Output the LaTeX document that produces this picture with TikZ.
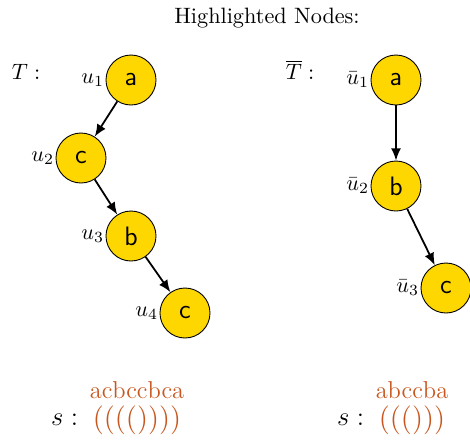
\documentclass[tikz,border=0pt]{standalone}
\usepackage{amsmath,amssymb}
\usepackage{tikz}
\usetikzlibrary{arrows.meta,positioning}

\definecolor{nodegold}{HTML}{FFD700}
\definecolor{seqorange}{HTML}{C8561E}

\begin{document}
\begin{tikzpicture}[
      x=0.45pt,y=-0.45pt,
      treenode/.style={
        circle,
        draw,
        fill=nodegold,
        minimum size=22.5pt,
        inner sep=0pt,
        font=\large\sffamily,
        label distance=0pt
      },
      every label/.style={inner sep=0.5pt},
      edgearrow/.style={-{Latex[length=5.5pt,width=4.5pt]},thick},
      seqletters/.style={text=seqorange,font=\fontsize{11}{13}\selectfont,inner sep=0pt,anchor=base},
      seqparens/.style={text=seqorange,font=\fontsize{13}{15}\selectfont,inner sep=0pt}
    ]
    \useasboundingbox (0,0) rectangle (470,442);

    \node (title) at (267,18) {Highlighted Nodes:};

    % left tree
    \node (tlab) at (26,72) {$T:$};
    \node[treenode,label=left:{$u_1$}] (u1) at (131,80) {a};
    \node[treenode,label=left:{$u_2$}] (u2) at (81,158) {c};
    \node[treenode,label=left:{$u_3$}] (u3) at (131,236) {b};
    \node[treenode,label=left:{$u_4$}] (u4) at (185,313) {c};

    \draw[edgearrow] (u1) -- (u2);
    \draw[edgearrow] (u2) -- (u3);
    \draw[edgearrow] (u3) -- (u4);

    % right tree
    \node (tbarlab) at (300,70) {$\overline{T}:$};
    \node[treenode,label=left:{$\bar{u}_1$}] (v1) at (396,80) {a};
    \node[treenode,label=left:{$\bar{u}_2$}] (v2) at (396,186) {b};
    \node[treenode,label=left:{$\bar{u}_3$}] (v3) at (446,288) {c};

    \draw[edgearrow] (v1) -- (v2);
    \draw[edgearrow] (v2) -- (v3);

    % bracket sequences
    \node[seqparens] (parL) at (137,420) {(((())))};
    \node[seqletters] (strL) at (137,398) {acbccbca};
    \node[font=\fontsize{13}{15}\selectfont,left=3pt of parL] (sL) {$s:$};

    \node[seqparens] (parR) at (412,420) {((()))};
    \node[seqletters] (strR) at (412,398) {abccba};
    \node[font=\fontsize{13}{15}\selectfont,left=3pt of parR] (sR) {$s:$};
\end{tikzpicture}
\end{document}
